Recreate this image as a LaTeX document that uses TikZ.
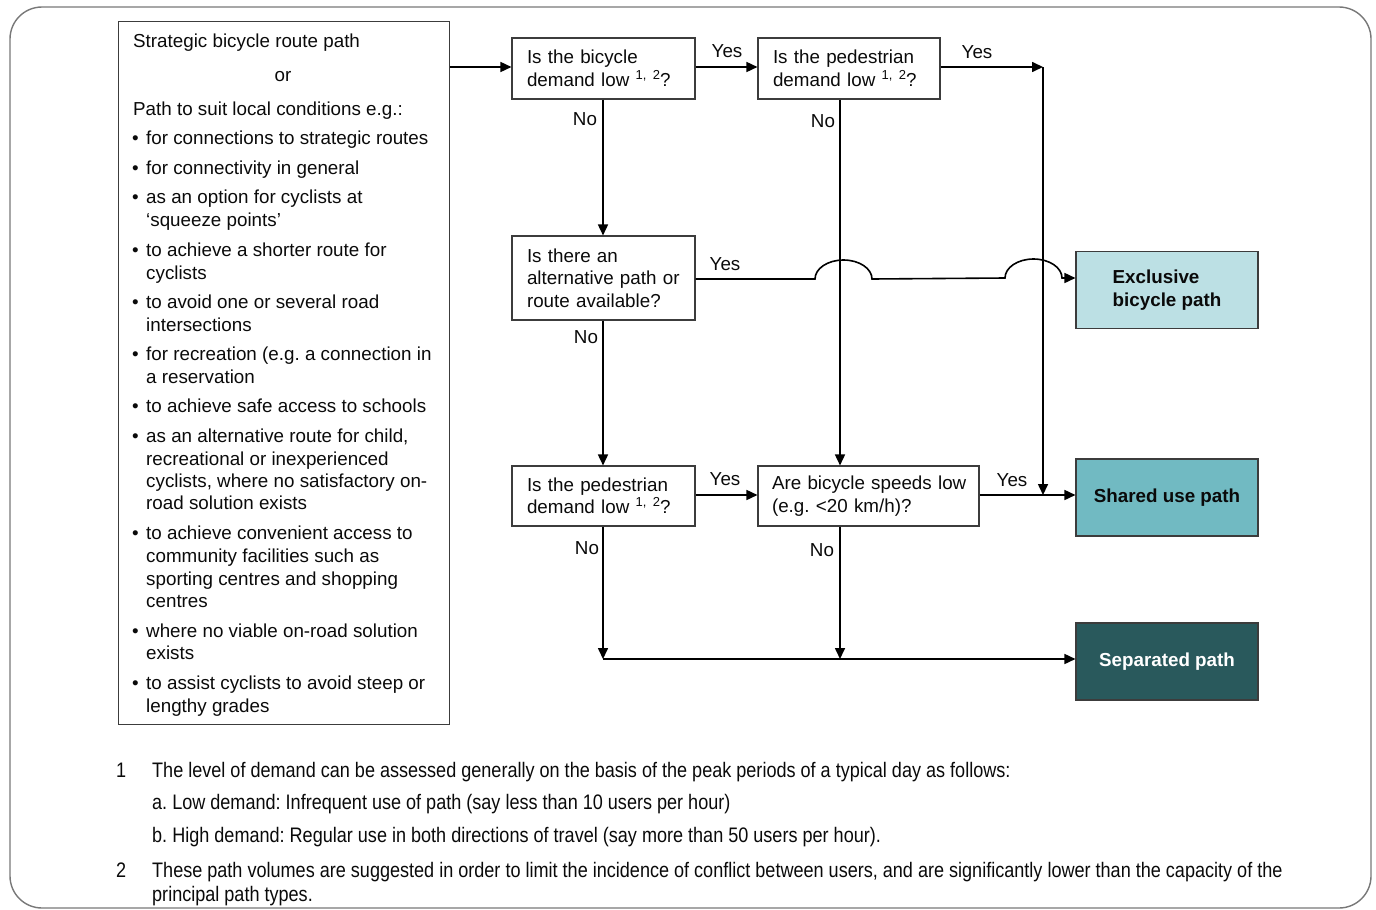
\documentclass[tikz,border=0pt]{standalone}
\usepackage{fontspec}
\setmainfont{Liberation Sans}
\newfontfamily\narrowfont[FakeStretch=0.86]{Liberation Sans}
\usetikzlibrary{arrows.meta}
\definecolor{exclfill}{RGB}{188,224,228}
\definecolor{sharedfill}{RGB}{113,186,194}
\definecolor{sepfill}{RGB}{41,89,92}
\definecolor{framegray}{RGB}{120,120,120}
\definecolor{boxline}{RGB}{60,60,60}
\definecolor{txt}{RGB}{10,10,10}
\newcommand\supn{\raisebox{7pt}{\fontsize{13}{13}\selectfont 1, 2}}
\begin{document}
\frenchspacing
\begin{tikzpicture}[x=1pt,y=-1pt,
  every node/.style={font=\fontsize{18.8}{22.5}\selectfont\frenchspacing, text=txt},
  qbox/.style={draw=boxline, line width=1.1pt, inner xsep=15pt, inner ysep=0pt, align=left},
  outbox/.style={draw=boxline, line width=1.1pt, minimum width=182pt, minimum height=77pt, align=left, font=\fontsize{18.8}{22.5}\selectfont\bfseries},
  arr/.style={line width=1.6pt, -{Triangle[length=11pt,width=10pt]}},
  lbl/.style={inner sep=0pt},
  ltext/.style={inner sep=0pt, anchor=base west},
  fnote/.style={inner sep=0pt, anchor=base west, font=\narrowfont\fontsize{21}{24}\selectfont\frenchspacing, text=txt}
]
\useasboundingbox (0,0) rectangle (1376,910);
% outer frame
\draw[framegray, line width=1.4pt, rounded corners=32pt] (10,7) rectangle (1371,908);

% source box
\node[draw=boxline, line width=1.1pt, minimum width=331pt, minimum height=703pt, anchor=north west, inner sep=0pt] (src) at (118,21) {};
\node[ltext] (s1) at (133,47.5) {Strategic bicycle route path};
\node[inner sep=0pt, anchor=base] (s2) at (283,81.5) {or};
\node[ltext] (s3) at (133,115.5) {Path to suit local conditions e.g.:};
\foreach \y [count=\i] in {138,168,197,250,302,354,406,436,533,631,683}
  \node[ltext] (bu\i) at (132,\y+6.5) {•};
\foreach \y/\t [count=\i] in {
  138/{for connections to strategic routes},
  168/{for connectivity in general},
  197/{as an option for cyclists at},
  220/{‘squeeze points’},
  250/{to achieve a shorter route for},
  273/{cyclists},
  302/{to avoid one or several road},
  325/{intersections},
  354/{for recreation (e.g. a connection in},
  377/{a reservation},
  406/{to achieve safe access to schools},
  436/{as an alternative route for child,},
  459/{recreational or inexperienced},
  481/{cyclists, where no satisfactory on-},
  503/{road solution exists},
  533/{to achieve convenient access to},
  556/{community facilities such as},
  579/{sporting centres and shopping},
  601/{centres},
  631/{where no viable on-road solution},
  653/{exists},
  683/{to assist cyclists to avoid steep or},
  706/{lengthy grades}}
  \node[ltext] (li\i) at (146,\y+6.5) {\t};

% decision boxes
\node[qbox, text width=153pt, minimum height=61pt] (b1) at (603.5,68.5) {Is the bicycle\\demand low \supn?};
\node[qbox, text width=152pt, minimum height=61pt] (b2) at (849,68.5) {Is the pedestrian\\demand low \supn?};
\node[qbox, text width=153pt, minimum height=84pt] (b3) at (603.5,278) {Is there an\\alternative path or\\route available?};
\node[qbox, text width=153pt, minimum height=60pt] (b4) at (603.5,496) {Is the pedestrian\\demand low \supn?};
\node[qbox, inner xsep=14pt, text width=193pt, minimum height=60pt] (b5) at (868.5,496) {\mbox{Are bicycle speeds low}\\(e.g. <20 km/h)?};

% outcome boxes
\node[outbox, fill=exclfill] (excl) at (1167,290) {Exclusive\\bicycle path};
\node[outbox, fill=sharedfill] (shared) at (1167,497.5) {Shared use path};
\node[outbox, fill=sepfill, text=white] (sep) at (1167,661.5) {Separated path};

% helper coordinates
\coordinate (cx2) at (840,0);
\coordinate (corner) at (1043,67);
\coordinate (bot) at (603,659);

% connectors
\draw[arr] (src.east |- 0,67) -- (b1.west |- 0,67);
\draw[arr] (b1.east |- 0,67) -- (b2.west |- 0,67);
\draw[arr] (b2.east |- corner) -- (corner);
\draw[arr] (corner) -- (corner |- 0,495);
\draw[arr] (b1.south -| bot) -- (b3.north -| bot);
\draw[arr] (b3.south -| bot) -- (b4.north -| bot);
\draw[arr] (b2.south -| cx2) -- (b5.north -| cx2);
\draw[arr] (b4.east |- 0,495) -- (b5.west |- 0,495);
\draw[arr] (b5.east |- 0,495) -- (shared.west |- 0,495);
\draw[arr] (b4.south -| bot) -- (bot);
\draw[arr] (b5.south -| cx2) -- (bot -| cx2);
\draw[arr] (bot) -- (sep.west |- bot);
\draw[arr] (b3.east |- 0,279) -- (815,279) arc[start angle=180, end angle=0, x radius=28.5pt, y radius=19pt] -- (1005,278) arc[start angle=180, end angle=0, x radius=28.5pt, y radius=19pt] -- (excl.west |- 0,278);

% labels
\node[lbl] (y1) at (727,51) {Yes};
\node[lbl] (y2) at (977,52) {Yes};
\node[lbl] (n1) at (585,119) {No};
\node[lbl] (n2) at (823,121) {No};
\node[lbl] (y3) at (725,264) {Yes};
\node[lbl] (n3) at (586,337) {No};
\node[lbl] (y4) at (725,479) {Yes};
\node[lbl] (y5) at (1012,480) {Yes};
\node[lbl] (n4) at (587,548) {No};
\node[lbl] (n5) at (822,550) {No};

% footnotes
\node[fnote] (f1n) at (116,777) {1};
\node[fnote] (f1a) at (152,777) {The level of demand can be assessed generally on the basis of the peak periods of a typical day as follows:};
\node[fnote] (f1b) at (152,809) {a. Low demand: Infrequent use of path (say less than 10 users per hour)};
\node[fnote] (f1c) at (152,842) {b. High demand: Regular use in both directions of travel (say more than 50 users per hour).};
\node[fnote] (f2n) at (116,877) {2};
\node[fnote] (f2a) at (152,877) {These path volumes are suggested in order to limit the incidence of conflict between users, and are significantly lower than the capacity of the};
\node[fnote] (f2b) at (152,901) {principal path types.};
\end{tikzpicture}
\end{document}
